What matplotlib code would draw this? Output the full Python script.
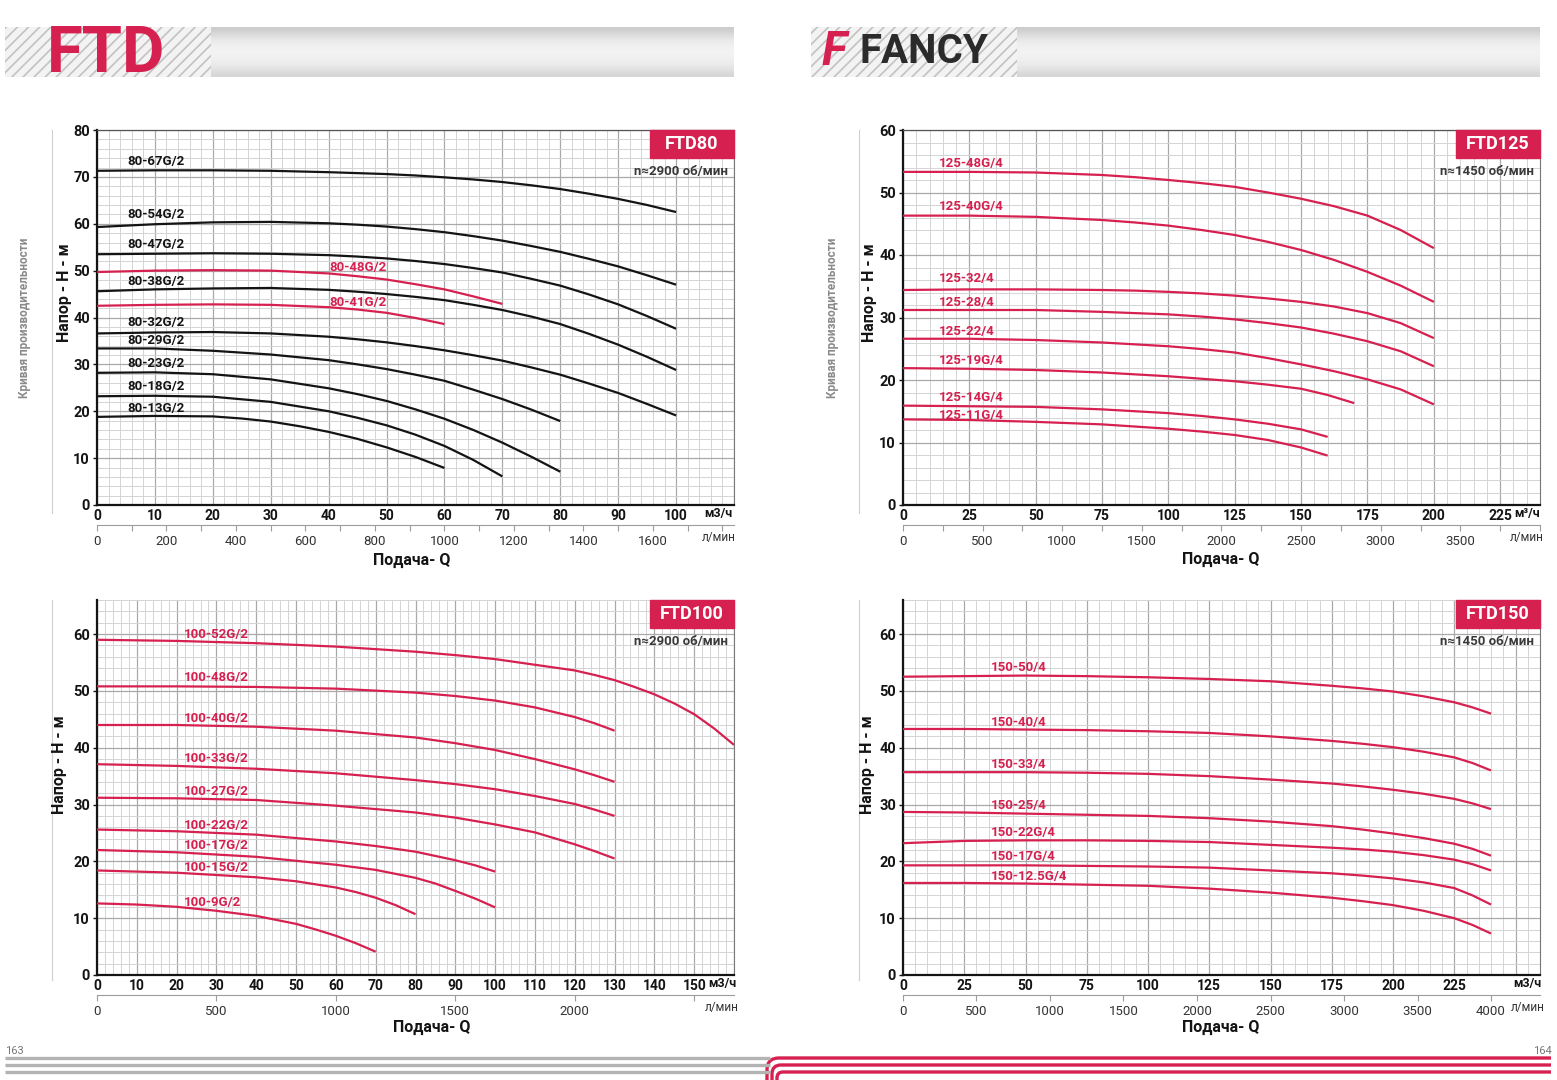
import matplotlib.pyplot as plt
import numpy as np
from matplotlib.patches import Rectangle, PathPatch
from matplotlib.path import Path
from matplotlib.ticker import MultipleLocator

plt.rcParams['font.family'] = ['Liberation Sans Narrow', 'Roboto', 'DejaVu Sans']

RED = '#d6204f'
BLK = '#141414'

# ---------------- FTD80, 2900 rpm ----------------
ftd80_names = ['80-67G/2', '80-54G/2', '80-47G/2', '80-48G/2', '80-38G/2', '80-41G/2',
               '80-32G/2', '80-29G/2', '80-23G/2', '80-18G/2', '80-13G/2']
ftd80_colors = [BLK, BLK, BLK, RED, BLK, RED, BLK, BLK, BLK, BLK, BLK]
q_full = [0, 10, 20, 30, 40, 45, 50, 55, 60, 65, 70, 75, 80, 85, 90, 95, 100]
ftd80_q = [
    q_full,
    q_full,
    q_full,
    [0, 10, 20, 30, 40, 45, 50, 55, 60, 65, 70],
    q_full,
    [0, 10, 20, 30, 40, 45, 50, 55, 60],
    q_full,
    [0, 10, 20, 30, 40, 45, 50, 55, 60, 65, 70, 75, 80],
    [0, 10, 20, 30, 40, 45, 50, 55, 60, 65, 70, 75, 80],
    [0, 10, 20, 30, 40, 45, 50, 55, 60, 65, 70],
    [0, 10, 20, 25, 30, 35, 40, 45, 50, 55, 60],
]
ftd80_h = [
    [71.3, 71.4, 71.4, 71.3, 71.0, 70.8, 70.6, 70.3, 69.9, 69.45, 68.9, 68.2, 67.4, 66.4, 65.3, 64.0, 62.5],
    [59.3, 59.9, 60.3, 60.4, 60.1, 59.8, 59.4, 58.85, 58.2, 57.35, 56.4, 55.25, 54.0, 52.5, 50.9, 49.0, 47.0],
    [53.5, 53.6, 53.7, 53.6, 53.3, 53.0, 52.6, 52.05, 51.4, 50.55, 49.6, 48.25, 46.8, 44.9, 42.8, 40.3, 37.6],
    [49.7, 50.0, 50.1, 50.0, 49.4, 48.8, 48.1, 47.1, 46.0, 44.5, 42.9],
    [45.6, 46.0, 46.2, 46.3, 45.9, 45.5, 45.0, 44.4, 43.7, 42.7, 41.6, 40.2, 38.6, 36.5, 34.2, 31.6, 28.8],
    [42.5, 42.7, 42.8, 42.7, 42.2, 41.7, 41.0, 39.9, 38.6],
    [36.6, 36.8, 36.9, 36.6, 35.9, 35.35, 34.7, 33.9, 33.0, 31.95, 30.8, 29.35, 27.8, 25.9, 23.9, 21.55, 19.1],
    [33.4, 33.4, 32.9, 32.1, 30.9, 30.0, 29.0, 27.8, 26.5, 24.6, 22.6, 20.35, 17.9],
    [28.2, 28.3, 27.9, 26.8, 24.9, 23.65, 22.2, 20.4, 18.4, 16.0, 13.3, 10.3, 7.1],
    [23.2, 23.3, 23.1, 22.0, 20.0, 18.6, 17.0, 15.0, 12.6, 9.6, 6.1],
    [18.8, 19.0, 18.9, 18.45, 17.8, 16.8, 15.6, 14.1, 12.3, 10.25, 7.9],
]
ftd80_lab_q = [5.3, 5.3, 5.3, 40.1, 5.3, 40.1, 5.3, 5.3, 5.3, 5.3, 5.3]
ftd80_lab_h = [73.2, 62.0, 55.6, 50.7, 47.7, 43.2, 38.9, 35.1, 30.2, 25.2, 20.5]

# ---------------- FTD125, 1450 rpm ----------------
ftd125_names = ['125-48G/4', '125-40G/4', '125-32/4', '125-28/4', '125-22/4',
                '125-19G/4', '125-14G/4', '125-11G/4']
q125_full = [0, 25, 50, 75, 87.5, 100, 112.5, 125, 137.5, 150, 162.5, 175, 187.5, 200]
ftd125_q = [
    q125_full,
    q125_full,
    q125_full,
    q125_full,
    q125_full,
    [0, 25, 50, 75, 100, 125, 137.5, 150, 160, 170],
    [0, 25, 50, 75, 100, 112.5, 125, 137.5, 150, 160],
    [0, 25, 50, 75, 100, 112.5, 125, 137.5, 150, 160],
]
ftd125_h = [
    [53.3, 53.3, 53.2, 52.8, 52.45, 52.0, 51.5, 50.9, 50.0, 49.0, 47.8, 46.3, 44.0, 41.1],
    [46.3, 46.3, 46.1, 45.6, 45.2, 44.7, 44.0, 43.2, 42.1, 40.8, 39.2, 37.3, 35.1, 32.5],
    [34.4, 34.5, 34.5, 34.4, 34.3, 34.1, 33.85, 33.5, 33.05, 32.5, 31.75, 30.7, 29.1, 26.7],
    [31.2, 31.2, 31.2, 30.9, 30.7, 30.5, 30.15, 29.7, 29.1, 28.4, 27.4, 26.2, 24.6, 22.2],
    [26.6, 26.6, 26.4, 26.0, 25.7, 25.4, 24.95, 24.4, 23.5, 22.5, 21.4, 20.1, 18.5, 16.1],
    [21.9, 21.8, 21.6, 21.2, 20.6, 19.8, 19.25, 18.6, 17.6, 16.3],
    [15.9, 15.8, 15.7, 15.3, 14.7, 14.25, 13.7, 13.0, 12.1, 10.9],
    [13.7, 13.6, 13.3, 12.9, 12.2, 11.75, 11.2, 10.4, 9.2, 7.9],
]
ftd125_lab_h = [54.6, 47.7, 36.3, 32.4, 27.8, 23.1, 17.2, 14.4]

# ---------------- FTD100, 2900 rpm ----------------
ftd100_names = ['100-52G/2', '100-48G/2', '100-40G/2', '100-33G/2', '100-27G/2',
                '100-22G/2', '100-17G/2', '100-15G/2', '100-9G/2']
q100_130 = [0, 20, 40, 60, 80, 90, 100, 110, 120, 125, 130]
ftd100_q = [
    [0, 20, 40, 60, 80, 90, 100, 110, 120, 125, 130, 135, 140, 145, 150, 155, 160],
    q100_130,
    q100_130,
    q100_130,
    q100_130,
    [0, 20, 40, 60, 70, 80, 90, 95, 100],
    [0, 20, 40, 60, 70, 80, 85, 90, 95, 100],
    [0, 20, 40, 50, 60, 65, 70, 75, 80],
    [0, 10, 20, 30, 40, 50, 55, 60, 65, 70],
]
ftd100_h = [
    [59.0, 58.8, 58.4, 57.8, 56.9, 56.3, 55.6, 54.6, 53.6, 52.8, 51.9, 50.7, 49.4, 47.8, 45.9, 43.4, 40.5],
    [50.8, 50.8, 50.7, 50.4, 49.7, 49.1, 48.3, 47.1, 45.4, 44.3, 43.0],
    [44.0, 44.0, 43.7, 43.0, 41.8, 40.8, 39.6, 38.0, 36.2, 35.15, 34.0],
    [37.1, 36.8, 36.3, 35.5, 34.3, 33.6, 32.7, 31.5, 30.1, 29.1, 28.0],
    [31.2, 31.1, 30.8, 29.8, 28.6, 27.7, 26.5, 25.1, 23.0, 21.8, 20.5],
    [25.6, 25.3, 24.7, 23.5, 22.7, 21.7, 20.2, 19.3, 18.2],
    [22.0, 21.6, 20.8, 19.4, 18.5, 17.1, 16.1, 14.8, 13.45, 11.9],
    [18.4, 18.0, 17.2, 16.5, 15.4, 14.6, 13.6, 12.3, 10.7],
    [12.6, 12.4, 12.0, 11.3, 10.4, 9.0, 8.0, 6.9, 5.6, 4.1],
]
ftd100_lab_h = [60.0, 52.3, 45.1, 38.1, 32.3, 26.3, 22.8, 18.9, 12.8]

# ---------------- FTD150, 1450 rpm ----------------
ftd150_names = ['150-50/4', '150-40/4', '150-33/4', '150-25/4', '150-22G/4',
                '150-17G/4', '150-12.5G/4']
ftd150_q = [0, 25, 50, 75, 100, 125, 150, 175, 187.5, 200, 212.5, 225, 232.5, 240]
ftd150_h = [
    [52.5, 52.6, 52.7, 52.6, 52.4, 52.1, 51.7, 50.9, 50.45, 49.9, 49.05, 48.0, 47.1, 46.0],
    [43.3, 43.3, 43.2, 43.1, 42.9, 42.6, 42.0, 41.2, 40.7, 40.1, 39.3, 38.3, 37.3, 36.0],
    [35.7, 35.7, 35.7, 35.6, 35.4, 35.0, 34.4, 33.7, 33.2, 32.6, 31.9, 31.0, 30.2, 29.2],
    [28.7, 28.6, 28.4, 28.2, 28.0, 27.6, 27.0, 26.2, 25.6, 24.9, 24.1, 23.1, 22.2, 21.0],
    [23.2, 23.6, 23.7, 23.7, 23.6, 23.4, 22.9, 22.4, 22.1, 21.7, 21.1, 20.3, 19.5, 18.4],
    [19.3, 19.3, 19.3, 19.2, 19.1, 18.9, 18.4, 17.9, 17.5, 17.0, 16.3, 15.3, 14.0, 12.4],
    [16.2, 16.2, 16.1, 15.9, 15.7, 15.2, 14.5, 13.6, 13.0, 12.3, 11.3, 10.0, 8.8, 7.3],
]
ftd150_lab_h = [54.2, 44.4, 37.0, 29.8, 25.1, 20.9, 17.4]


def to_lmin(q):
    return q * 1000 / 60


def to_q(l):
    return l * 60 / 1000


fig = plt.figure(figsize=(15.57, 10.8), dpi=100)
bg = fig.add_axes([0, 0, 1, 1], zorder=-1)
bg.set_autoscale_on(False)
bg.set_xlim(0, 1557)
bg.set_ylim(1080, 0)
bg.axis('off')


def panel(rect, badge, speed, names, qs, hs, colors, lab_q, lab_h, xlim, ylim,
          xmaj, xmin, xlab_last, lmaj, lmin, llab_last, unit_q, top):
    ax = fig.add_axes(rect)
    ax.set_xlim(*xlim)
    ax.set_ylim(*ylim)
    xt = np.arange(0, xlim[1] + 0.01, xmaj)
    ax.set_xticks(xt)
    ax.set_xticklabels([f'{v:g}' if v <= xlab_last else '' for v in xt],
                       fontweight='bold', fontsize=10)
    ax.xaxis.set_minor_locator(MultipleLocator(xmin))
    yt = np.arange(0, ylim[1] + 0.01, 10)
    ax.set_yticks(yt)
    ax.set_yticklabels([f'{v:g}' for v in yt], fontweight='bold', fontsize=10.5)
    ax.yaxis.set_minor_locator(MultipleLocator(2))
    ax.grid(which='major', color='#a9a9a9', lw=0.9)
    ax.grid(which='minor', color='#d4d4d4', lw=0.7)
    ax.set_axisbelow(True)
    ax.tick_params(axis='x', which='both', length=0, pad=3, colors=BLK)
    ax.tick_params(axis='y', which='major', length=3, width=1, pad=2, colors=BLK)
    ax.tick_params(axis='y', which='minor', length=0)
    for s in ('left', 'bottom'):
        ax.spines[s].set_linewidth(1.6)
        ax.spines[s].set_color(BLK)
    ax.spines['right'].set_color('#777777')
    ax.spines['right'].set_linewidth(0.8)
    ax.spines['top'].set_color('#555555')
    ax.spines['top'].set_linewidth(0.9)
    ax.spines['top'].set_visible(top)

    for q, h, c in zip(qs, hs, colors):
        ax.plot(q, h, color=c, lw=1.6, solid_capstyle='butt',
                solid_joinstyle='round', zorder=3)
    for name, lq, lh, c in zip(names, lab_q, lab_h, colors):
        ax.text(lq, lh, name, color=c, fontsize=9.5, fontweight='bold',
                ha='left', va='center', zorder=4)

    # model badge and speed
    w, h = 84 / 637, 28 / 375
    ax.add_patch(Rectangle((1 - w, 1 - h), w, h, transform=ax.transAxes,
                           color=RED, zorder=5, clip_on=False))
    ax.text(1 - w / 2, 1 - h / 2, badge, transform=ax.transAxes, color='white',
            fontsize=13, fontweight='bold', ha='center', va='center', zorder=6)
    ax.text(0.991, 0.888, speed, transform=ax.transAxes, color='#3a3a3a',
            fontsize=9.5, fontweight='bold', ha='right', va='center', zorder=6)

    tr = ax.get_xaxis_transform()
    ax.text(unit_q, -0.024, 'м3/ч' if badge != 'FTD125' else 'м³/ч', transform=tr,
            fontsize=9, fontweight='bold', ha='center', va='center', color=BLK)
    ax.text(unit_q, -0.088, 'л/мин', transform=tr, fontsize=8.5,
            ha='center', va='center', color='#333333')

    # litres per minute scale
    sec = ax.secondary_xaxis(-0.053, functions=(to_lmin, to_q))
    lt = np.arange(0, to_lmin(xlim[1]) - 30, lmaj)
    sec.set_xticks(lt)
    sec.set_xticklabels([f'{v:g}' if v <= llab_last else '' for v in lt])
    if lmin:
        sec.xaxis.set_minor_locator(MultipleLocator(lmin))
    sec.spines['bottom'].set_color('#9c9c9c')
    sec.spines['bottom'].set_linewidth(0.8)
    sec.tick_params(which='both', direction='out', length=4, width=0.8,
                    color='#9c9c9c', pad=3, labelsize=9.5, labelcolor='#333333')
    return ax


panel([97 / 1557, 1 - 505 / 1080, 637 / 1557, 375 / 1080], 'FTD80', 'n≈2900 об/мин',
      ftd80_names, ftd80_q, ftd80_h, ftd80_colors, ftd80_lab_q, ftd80_lab_h,
      (0, 110), (0, 80), 10, 2, 100, 200, 100, 1600, 107.3, True)

panel([903 / 1557, 1 - 505 / 1080, 637 / 1557, 375 / 1080], 'FTD125', 'n≈1450 об/мин',
      ftd125_names, ftd125_q, ftd125_h, [RED] * 8, [13.6] * 8, ftd125_lab_h,
      (0, 240), (0, 60), 25, 5, 225, 500, 250, 3500, 235, True)

panel([97 / 1557, 1 - 975 / 1080, 637 / 1557, 375 / 1080], 'FTD100', 'n≈2900 об/мин',
      ftd100_names, ftd100_q, ftd100_h, [RED] * 9, [21.9] * 9, ftd100_lab_h,
      (0, 160), (0, 66), 10, 2, 150, 500, 0, 2000, 157, False)

panel([903 / 1557, 1 - 975 / 1080, 637 / 1557, 375 / 1080], 'FTD150', 'n≈1450 об/мин',
      ftd150_names, [ftd150_q] * 7, ftd150_h, [RED] * 7, [36] * 7, ftd150_lab_h,
      (0, 260), (0, 66), 25, 5, 225, 500, 0, 4000, 255, False)

# axis titles and side captions
for x, y in [(65, 293), (870, 293), (60, 765), (868, 765)]:
    bg.text(x, y, 'Напор - H - м', rotation=90, fontsize=11.5, fontweight='bold',
            ha='center', va='center', color=BLK)
for x, y in [(412, 560), (1221, 559), (432, 1027), (1221, 1027)]:
    bg.text(x, y, 'Подача- Q', fontsize=11.5, fontweight='bold',
            ha='center', va='center', color=BLK)
for x in (25, 833):
    bg.text(x, 318, 'Кривая производительности', rotation=90, fontsize=8.5,
            fontweight='bold', ha='center', va='center', color='#8a8a8a')
for x in (52, 859):
    bg.plot([x, x], [130, 513], color='#d0d0d0', lw=0.8)
    bg.plot([x, x], [600, 980], color='#d0d0d0', lw=0.8)

# page headers
shade = np.array([0.80, 0.86, 0.91, 0.94, 0.95, 0.95, 0.94, 0.92, 0.89, 0.84])
shade_img = np.repeat(shade[:, None, None], 3, axis=2)
plt.rcParams['hatch.linewidth'] = 1.2
for x0, x1 in [(5, 734), (811, 1540)]:
    bg.add_patch(Rectangle((x0, 27), 206, 50, facecolor='#f3f3f3',
                           edgecolor='#c2c2c2', hatch='///', lw=0))
    bg.imshow(shade_img, extent=(x0 + 206, x1, 77, 27), aspect='auto',
              interpolation='bicubic')
bg.text(47, 55, 'FTD', color=RED, fontsize=47, fontweight='bold',
        ha='left', va='center')
bg.text(822, 52, 'F', color=RED, fontsize=34, fontweight='bold', style='italic',
        ha='left', va='center')
bg.text(860, 52, 'FANCY', color='#2b2b2b', fontsize=29, fontweight='bold',
        ha='left', va='center')

# page footer
bg.text(5, 1051, '163', fontsize=8, color='#777777', ha='left', va='center')
bg.text(1552, 1051, '164', fontsize=8, color='#777777', ha='right', va='center')
for i, y in enumerate((1058, 1065, 1072)):
    bg.plot([5, 770], [y, y], color='#b3b3b3', lw=2.4, solid_capstyle='butt')
    xv = 767 + 5 * i
    r = 12 - 3 * i
    verts = [(xv, 1082), (xv, y + r), (xv, y), (xv + r, y), (1551, y)]
    codes = [Path.MOVETO, Path.LINETO, Path.CURVE3, Path.CURVE3, Path.LINETO]
    bg.add_patch(PathPatch(Path(verts, codes), facecolor='none', edgecolor=RED,
                           lw=2.4, capstyle='butt'))

fig.savefig('out.png', dpi=100)
